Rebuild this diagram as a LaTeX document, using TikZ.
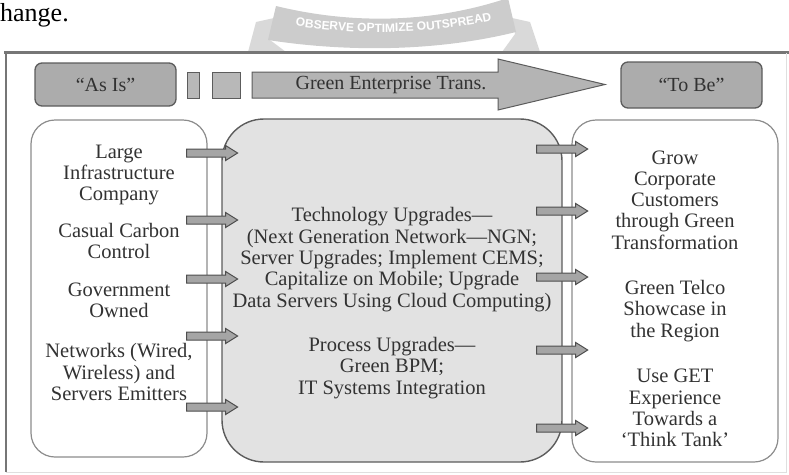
\documentclass[tikz,border=0pt]{standalone}
\usepackage{fontspec}
\setmainfont{Liberation Serif}
\setsansfont{Liberation Sans}
\usepackage{tikz}
\usetikzlibrary{positioning, decorations.text}

\definecolor{framegray}{RGB}{118,118,118}
\definecolor{hdrfill}{RGB}{172,172,172}
\definecolor{hdrdraw}{RGB}{92,92,92}
\definecolor{midfill}{RGB}{226,226,226}
\definecolor{sidedraw}{RGB}{140,140,140}
\definecolor{arrfill}{RGB}{165,165,165}
\definecolor{arrdraw}{RGB}{78,78,78}
\definecolor{txtgray}{RGB}{50,50,50}
\definecolor{wmgray}{RGB}{204,204,204}

\newcommand{\diagfont}{\fontsize{20.5}{21.3}\selectfont}
\newcommand{\hdrfont}{\fontsize{20}{22}\selectfont}
\newcommand{\pagefont}{\fontsize{26}{30}\selectfont}
\newcommand{\wmfont}{\fontsize{12}{13}\selectfont\sffamily\bfseries}

\tikzset{
  hdrbox/.style={draw=hdrdraw, fill=hdrfill, line width=1.3pt, rounded corners=7pt,
    text=txtgray, font=\hdrfont, inner sep=0pt},
  smallbox/.style={draw=hdrdraw, fill=hdrfill!85, line width=1pt, inner sep=0pt},
  hdrarrow/.style={draw=hdrdraw, fill=hdrfill!90, line width=1pt},
  hdrtext/.style={text=txtgray, font=\hdrfont, inner sep=0pt},
  sidebox/.style={draw=sidedraw, fill=white, line width=1.2pt, rounded corners=24pt},
  midbox/.style={draw=hdrdraw, fill=midfill, line width=1.4pt, rounded corners=42pt},
  coltext/.style={text=txtgray, font=\diagfont, align=center, inner sep=0pt},
  arrowfill/.style={draw=arrdraw, fill=arrfill, line width=1pt},
  blockarrow/.pic={
    \draw[arrowfill] (0,-4) -- (39,-4) -- (39,-7.5) -- (51,0) -- (39,7.5) -- (39,4) -- (0,4) -- cycle;
  }
}

\begin{document}
\begin{tikzpicture}[x=1pt, y=-1pt]
\useasboundingbox (0,0) rectangle (789,474);

% Page text above the figure (cut at the left)
\node[anchor=base west, inner sep=0pt, font=\pagefont] (pagetxt) at (0,21) {hange.};

% Watermark ribbon behind the frame
\fill[wmgray!75] (256,22) -- (274,18) -- (270,40) -- (286,52) -- (248,52) -- cycle;
\fill[wmgray!75] (512,18) -- (530,22) -- (540,52) -- (502,52) -- (515,34) -- cycle;
\fill[wmgray] (276,6) .. controls (350,24) and (430,24) .. (508,-2) -- (516,32)
  .. controls (435,52) and (345,52) .. (268,40) -- cycle;
\path[decorate, decoration={text along path, text align=center,
  text={|\wmfont\color{white}|OBSERVE OPTIMIZE OUTSPREAD}}]
  (280,23) .. controls (350,36) and (430,36) .. (507,17);

% Frame
\draw[framegray, line width=3pt] (4,52) -- (789,52);
\draw[framegray, line width=2pt] (6,52) -- (6,472);
\draw[gray!25, line width=1pt] (6,472) -- (786,472) -- (786,53);

% Header row
\node[hdrbox, minimum width=141, minimum height=43] (asis) at (105.5,84.5) {“As Is”};
\node[smallbox, minimum width=12, minimum height=26] (gap1) at (193,85) {};
\node[smallbox, minimum width=28, minimum height=26] (gap2) at (226,85) {};
\draw[hdrarrow] (252,72) -- (498,72) -- (498,59) -- (605,84.5) -- (498,110) -- (498,98) -- (252,98) -- cycle;
\node[hdrtext] (trans) at (391,85) {Green Enterprise Trans.};
\node[hdrbox, minimum width=141, minimum height=46] (tobe) at (691.5,85) {“To Be”};

% Three columns
\node[sidebox, minimum width=176, minimum height=337] (lbox) at (119,288.5) {};
\node[midbox, minimum width=340, minimum height=343] (cbox) at (392,290.5) {};
\node[sidebox, minimum width=206, minimum height=342] (rbox) at (675,291) {};

% Left column
\node[coltext] (large) at (119,175) {Large\\Infrastructure\\Company};
\node[coltext] (casual) at (119,241) {Casual Carbon\\Control};
\node[coltext] (govt) at (119,300) {Government\\Owned};
\node[coltext] (nets) at (119,372) {Networks (Wired,\\Wireless) and\\Servers Emitters};

% Middle column
\node[coltext] (tech) at (392,259.5) {Technology Upgrades—\\(Next Generation Network—NGN;\\Server Upgrades; Implement CEMS;\\Capitalize on Mobile; Upgrade\\Data Servers Using Cloud Computing)};
\node[coltext] (proc) at (392,368) {Process Upgrades—\\Green BPM;\\IT Systems Integration};

% Right column
\node[coltext] (grow) at (675,200) {Grow\\Corporate\\Customers\\through Green\\Transformation};
\node[coltext] (telco) at (675,311) {Green Telco\\Showcase in\\the Region};
\node[coltext] (useget) at (675,408) {Use GET\\Experience\\Towards a\\‘Think Tank’};

% Block arrows between the columns
\foreach \y in {153,220,279,336,407}
  \pic[xshift=-21] at (lbox.east |- 0,\y) {blockarrow};
\foreach \y in {149,211,277,350,428}
  \pic[xshift=-26] at (cbox.east |- 0,\y) {blockarrow};

\end{tikzpicture}
\end{document}
